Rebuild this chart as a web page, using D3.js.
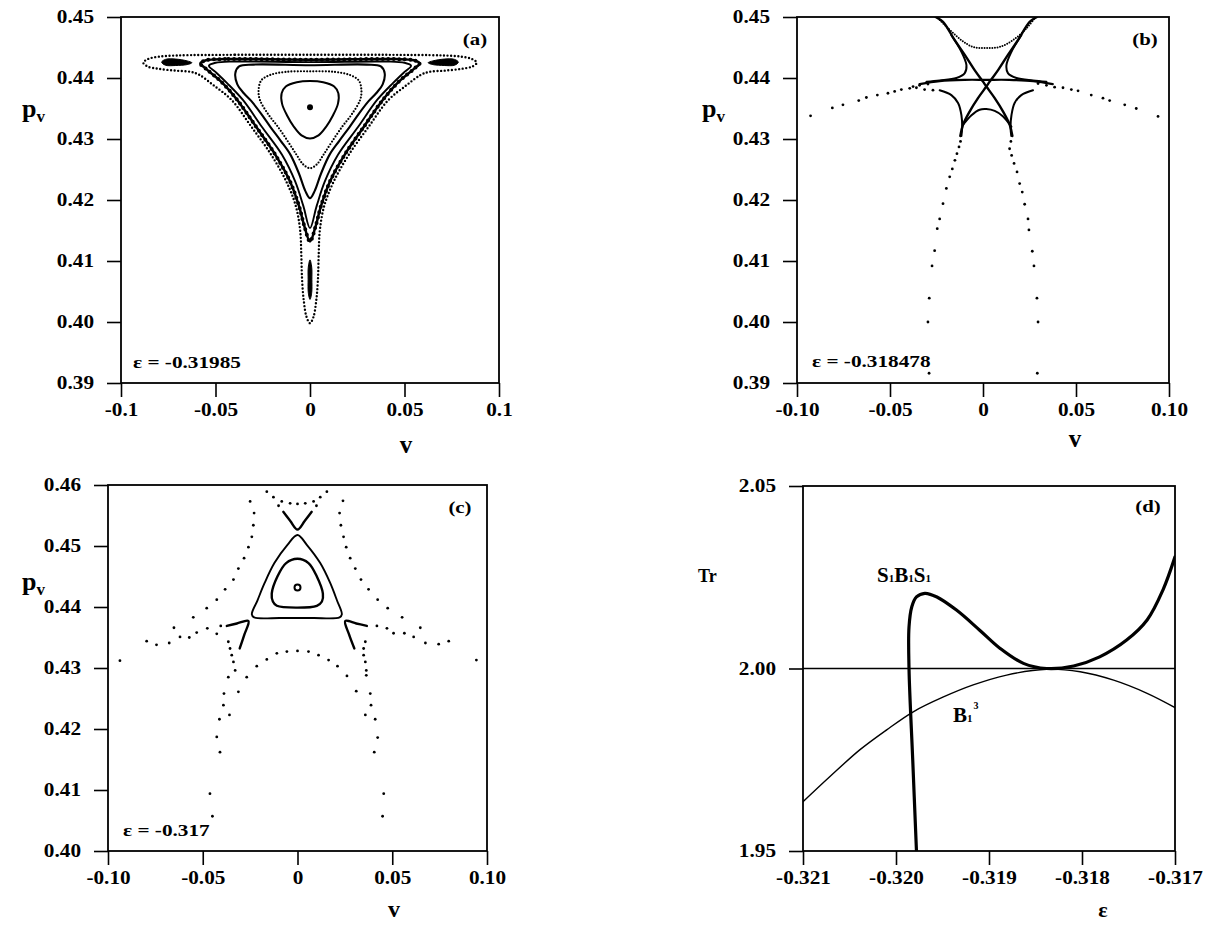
<!DOCTYPE html>
<html>
<head>
<meta charset="utf-8">
<script src="https://cdn.jsdelivr.net/npm/d3@7"></script>
<style>
  body { margin: 0; background: #fff; }
  svg text { font-family: "Liberation Serif", "Times New Roman", Times, serif; font-weight: bold; fill: #000; }
</style>
</head>
<body>
<svg id="fig" width="1208" height="926"></svg>
<script>
// ---------------- panel (a)  eps = -0.31985   [v, p_v] ----------------
const aCenter = [[0, 0.4352]]
const aCurveA = [[0, 0.4395], [-0.007, 0.4393], [-0.0128, 0.4386], [-0.0150, 0.4375], [-0.0148, 0.4358], [-0.0122, 0.4339], [-0.0085, 0.4320], [-0.0045, 0.4306], [0, 0.4301], [0.0045, 0.4306], [0.0085, 0.4320], [0.0122, 0.4339], [0.0148, 0.4358], [0.0150, 0.4375], [0.0128, 0.4386], [0.007, 0.4393]]
const aCurveB = [[0, 0.4411], [-0.013, 0.4410], [-0.021, 0.4405], [-0.0258, 0.4396], [-0.0272, 0.4380], [-0.0265, 0.4364], [-0.022, 0.4340], [-0.017, 0.4320], [-0.0115, 0.4295], [-0.0071, 0.4274], [-0.0035, 0.4258], [0, 0.4252], [0.0035, 0.4258], [0.0071, 0.4274], [0.0115, 0.4295], [0.017, 0.4320], [0.022, 0.4340], [0.0265, 0.4364], [0.0272, 0.4380], [0.0258, 0.4396], [0.021, 0.4405], [0.013, 0.4410]]
const aCurveC = [[0, 0.4421], [-0.030, 0.4422], [-0.0375, 0.4419], [-0.0395, 0.4408], [-0.0385, 0.4390], [-0.035, 0.4375], [-0.031, 0.4362], [-0.026, 0.4342], [-0.021, 0.4320], [-0.0155, 0.4297], [-0.0103, 0.4274], [-0.0058, 0.4243], [-0.0025, 0.4215], [0, 0.4203], [0.0025, 0.4215], [0.0058, 0.4243], [0.0103, 0.4274], [0.0155, 0.4297], [0.021, 0.4320], [0.026, 0.4342], [0.031, 0.4362], [0.035, 0.4375], [0.0385, 0.4390], [0.0395, 0.4408], [0.0375, 0.4419], [0.030, 0.4422]]
const aCurveD1 = [[0, 0.4426], [-0.040, 0.4427], [-0.050, 0.4425], [-0.0535, 0.4420], [-0.050, 0.4410], [-0.044, 0.4392], [-0.0355, 0.4364], [-0.0255, 0.4320], [-0.0148, 0.4274], [-0.0078, 0.4230], [-0.0035, 0.4190], [0, 0.4154], [0.0035, 0.4190], [0.0078, 0.4230], [0.0148, 0.4274], [0.0255, 0.4320], [0.0355, 0.4364], [0.044, 0.4392], [0.050, 0.4410], [0.0535, 0.4420], [0.050, 0.4425], [0.040, 0.4427]]
const aCurveD2 = [[0, 0.4430], [-0.045, 0.4431], [-0.055, 0.4429], [-0.0580, 0.4424], [-0.055, 0.4415], [-0.047, 0.4394], [-0.0385, 0.4364], [-0.0285, 0.4320], [-0.0183, 0.4274], [-0.0105, 0.4230], [-0.0058, 0.4190], [-0.0028, 0.4155], [0, 0.4132], [0.0028, 0.4155], [0.0058, 0.4190], [0.0105, 0.4230], [0.0183, 0.4274], [0.0285, 0.4320], [0.0385, 0.4364], [0.047, 0.4394], [0.055, 0.4415], [0.0580, 0.4424], [0.055, 0.4429], [0.045, 0.4431]]
const aOuter = [[0, 0.4438], [-0.040, 0.4438], [-0.070, 0.4437], [-0.080, 0.4435], [-0.0858, 0.4431], [-0.0882, 0.4425], [-0.086, 0.4419], [-0.080, 0.4415], [-0.071, 0.4412], [-0.063, 0.4410], [-0.0585, 0.4405], [-0.051, 0.4388], [-0.0415, 0.4364], [-0.031, 0.4320], [-0.0205, 0.4274], [-0.0125, 0.4230], [-0.0075, 0.4190], [-0.0052, 0.4150], [-0.0046, 0.4110], [-0.0042, 0.4070], [-0.0033, 0.4035], [-0.0018, 0.4008], [0, 0.3998], [0.0018, 0.4008], [0.0033, 0.4035], [0.0042, 0.4070], [0.0046, 0.4110], [0.0052, 0.4150], [0.0075, 0.4190], [0.0125, 0.4230], [0.0205, 0.4274], [0.031, 0.4320], [0.0415, 0.4364], [0.051, 0.4388], [0.0585, 0.4405], [0.063, 0.4410], [0.071, 0.4412], [0.080, 0.4415], [0.086, 0.4419], [0.0882, 0.4425], [0.0858, 0.4431], [0.080, 0.4435], [0.070, 0.4437], [0.040, 0.4438]]
const aIslandL = [[-0.0785, 0.4426], [-0.0765, 0.44305], [-0.071, 0.4431], [-0.065, 0.4428], [-0.0625, 0.4425], [-0.065, 0.4422], [-0.071, 0.44205], [-0.0765, 0.4421]]
const aIslandR = [[0.0785, 0.4426], [0.0765, 0.44305], [0.071, 0.4431], [0.065, 0.4428], [0.0625, 0.4425], [0.065, 0.4422], [0.071, 0.44205], [0.0765, 0.4421]]
const aIslandB = [[0, 0.4102], [0.0009, 0.4090], [0.0010, 0.4070], [0.0009, 0.4048], [0, 0.4037], [-0.0009, 0.4048], [-0.0010, 0.4070], [-0.0009, 0.4090]]

// ---------------- panel (b)  eps = -0.318478 ----------------
const bCupTop = [[-0.0242, 0.4498], [-0.0179, 0.4479], [-0.0116, 0.4462], [-0.0054, 0.4451], [0.0018, 0.4449], [0.009, 0.4451], [0.0161, 0.4462], [0.0233, 0.4481], [0.0278, 0.4498]]
const bArmA = [[-0.0255, 0.4500], [-0.0215, 0.4492], [-0.0152, 0.4462], [-0.0098, 0.4438], [-0.0045, 0.4413], [0, 0.4394], [0.0018, 0.4386], [0.0063, 0.4367], [0.0108, 0.4345], [0.0144, 0.4323], [0.0158, 0.4305]]
const bArmB = [[0.0290, 0.4500], [0.0251, 0.4492], [0.0188, 0.4462], [0.0134, 0.4438], [0.0081, 0.4413], [0.0036, 0.4394], [0.0018, 0.4386], [-0.0027, 0.4367], [-0.0072, 0.4345], [-0.0108, 0.4323], [-0.0122, 0.4305]]
const bHoriz = [[-0.0341, 0.4390], [-0.0233, 0.4395], [-0.010, 0.4397], [0.0018, 0.4397], [0.014, 0.4397], [0.027, 0.4395], [0.0375, 0.4390]]
const bLobeUL = [[-0.0170, 0.4470], [-0.0116, 0.4443], [-0.0089, 0.4421], [-0.0098, 0.4408], [-0.0143, 0.4400], [-0.0233, 0.4396], [-0.0304, 0.4394]]
const bLobeUR = [[0.0206, 0.4470], [0.0153, 0.4443], [0.0126, 0.4421], [0.0134, 0.4408], [0.0180, 0.4400], [0.0269, 0.4396], [0.0341, 0.4394]]
const bLobeLL = [[-0.0233, 0.4380], [-0.0170, 0.4372], [-0.0134, 0.4359], [-0.0116, 0.4339], [-0.0112, 0.4320], [-0.0116, 0.4305]]
const bLobeLR = [[0.0269, 0.4380], [0.0206, 0.4372], [0.0170, 0.4359], [0.0153, 0.4339], [0.0148, 0.4320], [0.0152, 0.4305]]
const bCap = [[-0.0108, 0.4323], [-0.0062, 0.4339], [-0.0018, 0.4348], [0.0018, 0.4349], [0.0063, 0.4346], [0.0108, 0.4337], [0.0153, 0.4320]]
const bDotsArcL = [[-0.0927, 0.4338], [-0.0810, 0.4351], [-0.0753, 0.4356], [-0.0668, 0.4363], [-0.0627, 0.4368], [-0.0568, 0.4372], [-0.0511, 0.4375], [-0.0475, 0.4378], [-0.0439, 0.4381], [-0.0394, 0.4383], [-0.0358, 0.4384], [-0.0376, 0.4386], [-0.0341, 0.4388], [-0.0296, 0.4390], [-0.0314, 0.4381], [-0.0269, 0.4380]]
const bDotsArcR = [[0.0296, 0.4391], [0.0341, 0.4388], [0.0385, 0.4385], [0.0430, 0.4384], [0.0475, 0.4381], [0.0511, 0.4379], [0.0582, 0.4372], [0.0645, 0.4367], [0.0681, 0.4363], [0.0762, 0.4356], [0.0824, 0.4350], [0.0941, 0.4337]]
const bDotsLowL = [[-0.0290, 0.3916], [-0.0296, 0.4000], [-0.0289, 0.4039], [-0.0274, 0.4092], [-0.0260, 0.4117], [-0.0246, 0.4153], [-0.0233, 0.4169], [-0.0215, 0.4194], [-0.0197, 0.4219], [-0.0179, 0.4238], [-0.0165, 0.4251], [-0.0151, 0.4265], [-0.0140, 0.4276], [-0.0129, 0.4287], [-0.0121, 0.4296]]
const bDotsLowR = [[0.0292, 0.3916], [0.0296, 0.4000], [0.0290, 0.4039], [0.0274, 0.4092], [0.0265, 0.4116], [0.0247, 0.4151], [0.0242, 0.4169], [0.0224, 0.4193], [0.0211, 0.4213], [0.0197, 0.4227], [0.0183, 0.4246], [0.0167, 0.4260], [0.0154, 0.4273], [0.0143, 0.4284], [0.0150, 0.4296]]

// ---------------- panel (c)  eps = -0.317 ----------------
const cRing = [[0, 0.4432]]
const cInner = [[0, 0.4479], [0.0058, 0.4472], [0.0102, 0.4450], [0.0134, 0.4422], [0.0129, 0.4409], [0.0102, 0.4402], [0, 0.4399], [-0.0109, 0.4402], [-0.0130, 0.4409], [-0.0136, 0.4422], [-0.0106, 0.4450], [-0.0060, 0.4472]]
const cOuter = [[0, 0.4518], [0.0049, 0.4502], [0.0120, 0.4472], [0.0173, 0.4439], [0.0208, 0.4411], [0.0234, 0.4388], [0.0222, 0.4383], [0.0085, 0.4382], [0, 0.4382], [-0.0092, 0.4382], [-0.0229, 0.4383], [-0.0241, 0.4388], [-0.0211, 0.4411], [-0.0174, 0.4439], [-0.0122, 0.4472], [-0.0053, 0.4502]]
const cVee = [[-0.0075, 0.4556], [-0.0038, 0.4541], [0, 0.4527], [0.0038, 0.4541], [0.0075, 0.4556]]
const cCuspL = [[-0.0373, 0.4369], [-0.0320, 0.4373], [-0.0259, 0.4377], [-0.0280, 0.4355], [-0.0305, 0.4332]]
const cCuspR = [[0.0366, 0.4369], [0.0310, 0.4373], [0.0252, 0.4377], [0.0272, 0.4355], [0.0300, 0.4332]]
const cDotsArcL = [[-0.0250, 0.4573], [-0.0229, 0.4554], [-0.0233, 0.4534], [-0.0241, 0.4515], [-0.0259, 0.4498], [-0.0282, 0.4480], [-0.0312, 0.4463], [-0.0338, 0.4445], [-0.0382, 0.4429], [-0.0426, 0.4412], [-0.0479, 0.4398], [-0.0550, 0.4383], [-0.0652, 0.4366]]
const cDotsArcR = [[0.0240, 0.4574], [0.0222, 0.4554], [0.0229, 0.4534], [0.0243, 0.4515], [0.0257, 0.4498], [0.0278, 0.4480], [0.0305, 0.4463], [0.0335, 0.4445], [0.0375, 0.4429], [0.0423, 0.4412], [0.0476, 0.4398], [0.0552, 0.4383], [0.0648, 0.4366]]
const cDotsArmL = [[-0.0937, 0.4312], [-0.0796, 0.4344], [-0.0744, 0.4338], [-0.0677, 0.4341], [-0.0620, 0.4351], [-0.0571, 0.4350], [-0.0532, 0.4358], [-0.0476, 0.4365], [-0.0426, 0.4356], [-0.0405, 0.4369]]
const cDotsArmR = [[0.0944, 0.4313], [0.0798, 0.4344], [0.0745, 0.4339], [0.0675, 0.4341], [0.0613, 0.4351], [0.0564, 0.4357], [0.0507, 0.4357], [0.0472, 0.4365], [0.0419, 0.4369]]
const cDotsLowL = [[-0.0365, 0.4343], [-0.0356, 0.4332], [-0.0347, 0.4321], [-0.0338, 0.4310], [-0.0329, 0.4296], [-0.0365, 0.4285], [-0.0312, 0.4261], [-0.0388, 0.4258], [-0.0391, 0.4239], [-0.0359, 0.4223], [-0.0412, 0.4216], [-0.0426, 0.4187], [-0.0409, 0.4162], [-0.0462, 0.4094], [-0.0449, 0.4057]]
const cDotsLowR = [[0.0358, 0.4343], [0.0349, 0.4332], [0.0349, 0.4321], [0.0358, 0.4310], [0.0363, 0.4296], [0.0363, 0.4288], [0.0384, 0.4258], [0.0388, 0.4239], [0.0358, 0.4223], [0.0410, 0.4216], [0.0423, 0.4186], [0.0405, 0.4162], [0.0455, 0.4094], [0.0449, 0.4057]]
const cDotsCap = [[-0.0268, 0.4285], [-0.0215, 0.4303], [-0.0162, 0.4314], [-0.0109, 0.4324], [-0.0056, 0.4327], [0, 0.4328], [0.0058, 0.4327], [0.0111, 0.4321], [0.0164, 0.4313], [0.0211, 0.4303], [0.0261, 0.4287], [0.0310, 0.4262]]
const cDotsCup = [[-0.0162, 0.4589], [-0.0127, 0.4580], [-0.0083, 0.4573], [-0.0039, 0.4570], [0, 0.4569], [0.0041, 0.4570], [0.0085, 0.4573], [0.0120, 0.4580], [0.0155, 0.4589], [-0.0100, 0.4566], [0.0100, 0.4566]]

// ---------------- panel (d)  Tr vs eps ----------------
const dB13 = [[-0.3210, 1.9635], [-0.32071, 1.9704], [-0.32039, 1.9777], [-0.3201, 1.9832], [-0.31981, 1.9882], [-0.31949, 1.9922], [-0.31917, 1.9955], [-0.31881, 1.9982], [-0.31838, 1.9998], [-0.31802, 1.9991], [-0.31766, 1.9968], [-0.3173, 1.9932], [-0.3170, 1.9893]]
const dSBS = [[-0.31978, 1.9500], [-0.31982, 1.9749], [-0.31986, 1.9999], [-0.31986, 2.0114], [-0.31983, 2.0169], [-0.31978, 2.0196], [-0.31969, 2.0206], [-0.31956, 2.0196], [-0.31935, 2.0160], [-0.31910, 2.0105], [-0.31888, 2.0055], [-0.31863, 2.0014], [-0.31838, 2.0000], [-0.31809, 2.0007], [-0.31781, 2.0032], [-0.31752, 2.0078], [-0.31730, 2.0133], [-0.31713, 2.0215], [-0.3170, 2.0306]]
const dLevel = [2.00]

// ---------------- ticks ----------------
const vTicks = [-0.1, -0.05, 0, 0.05, 0.1]
const vLabelsA = ['-0.1', '-0.05', '0', '0.05', '0.1']
const vLabelsB = ['-0.10', '-0.05', '0', '0.05', '0.10']
const pTicksAB = [0.39, 0.40, 0.41, 0.42, 0.43, 0.44, 0.45]
const pTicksC = [0.40, 0.41, 0.42, 0.43, 0.44, 0.45, 0.46]
const eTicks = [-0.321, -0.320, -0.319, -0.318, -0.317]
const trTicks = [1.95, 2.00, 2.05]

const svg = d3.select('#fig')
const FONT = '"Liberation Serif", "Times New Roman", Times, serif'

function stretch (sel, k) {
  sel.each(function () {
    const w = this.getComputedTextLength()
    d3.select(this).attr('textLength', w * k).attr('lengthAdjust', 'spacingAndGlyphs')
  })
}

function panel (id, box, xDom, yDom, xt, xl, yt, yl) {
  const x = d3.scaleLinear().domain(xDom).range([box.x0, box.x1])
  const y = d3.scaleLinear().domain(yDom).range([box.y1, box.y0])
  svg.append('clipPath').attr('id', id)
    .append('rect').attr('x', box.x0).attr('y', box.y0)
    .attr('width', box.x1 - box.x0).attr('height', box.y1 - box.y0)
  const g = svg.append('g')
  const gx = g.append('g').attr('transform', `translate(0,${box.y1})`)
    .call(d3.axisBottom(x).tickValues(xt).tickFormat((d, i) => xl[i]).tickSize(14).tickSizeOuter(0).tickPadding(6))
  const gy = g.append('g').attr('transform', `translate(${box.x0},0)`)
    .call(d3.axisLeft(y).tickValues(yt).tickFormat((d, i) => yl[i]).tickSize(14).tickSizeOuter(0).tickPadding(13))
  ;[gx, gy].forEach(a => {
    a.attr('font-family', FONT).attr('font-size', 18).attr('font-weight', 'bold')
    a.select('.domain').remove()
    a.selectAll('line').attr('stroke', '#000').attr('stroke-width', 1.6)
    a.selectAll('text').attr('fill', '#000')
    stretch(a.selectAll('text'), 1.18)
  })
  g.append('rect').attr('x', box.x0).attr('y', box.y0)
    .attr('width', box.x1 - box.x0).attr('height', box.y1 - box.y0)
    .attr('fill', 'none').attr('stroke', '#000').attr('stroke-width', 1.8)
  const plot = g.append('g').attr('clip-path', `url(#${id})`)
  return { x, y, g, plot }
}

function lineGen (P, closed) {
  return d3.line().x(d => P.x(d[0])).y(d => P.y(d[1]))
    .curve(closed ? d3.curveCatmullRomClosed.alpha(0.5) : d3.curveCatmullRom.alpha(0.5))
}
function curve (P, data, closed, w, dash) {
  const p = P.plot.append('path').attr('d', lineGen(P, closed)(data))
    .attr('fill', 'none').attr('stroke', '#000').attr('stroke-width', w)
    .attr('stroke-linecap', 'round').attr('stroke-linejoin', 'round')
  if (dash) p.attr('stroke-dasharray', dash)
  return p
}
function blob (P, data) {
  P.plot.append('path').attr('d', lineGen(P, true)(data)).attr('fill', '#000').attr('stroke', '#000').attr('stroke-width', 1)
}
function dots (P, data, r) {
  P.plot.selectAll(null).data(data).enter().append('circle')
    .attr('cx', d => P.x(d[0])).attr('cy', d => P.y(d[1])).attr('r', r).attr('fill', '#000')
}
function label (x, y, txt, size, k, anchor) {
  const t = svg.append('text').attr('x', x).attr('y', y).attr('font-size', size)
    .attr('text-anchor', anchor || 'start').text(txt)
  if (k) stretch(t, k)
  return t
}
function pvTitle (x, y) {
  const t = svg.append('text').attr('x', x).attr('y', y).attr('font-size', 26)
  t.append('tspan').text('p')
  t.append('tspan').attr('font-size', 17).attr('dy', 5).text('v')
}

// ---------------- (a) ----------------
const A = panel('clipA', { x0: 121, x1: 499, y0: 17, y1: 383 }, [-0.1, 0.1], [0.39, 0.45],
  vTicks, vLabelsA, pTicksAB, pTicksAB.map(d => d.toFixed(2)))
curve(A, aOuter, true, 2.4, '0 3.6')
curve(A, aCurveD2, true, 2.5)
curve(A, aCurveD2, true, 4, '0 5.5')
curve(A, aCurveD1, true, 1.9)
curve(A, aCurveC, true, 2.1)
curve(A, aCurveB, true, 2.2, '0 3.1')
curve(A, aCurveA, true, 2)
blob(A, aIslandL)
blob(A, aIslandR)
blob(A, aIslandB)
dots(A, aCenter, 3)
label(475, 45, '(a)', 16, 1.3, 'middle')
label(133, 368, 'ε = -0.31985', 17, 1.25)
pvTitle(22, 117)
label(406, 453, 'v', 25, 0, 'middle')

// ---------------- (b) ----------------
const B = panel('clipB', { x0: 797, x1: 1169, y0: 17, y1: 383 }, [-0.1, 0.1], [0.39, 0.45],
  vTicks, vLabelsB, pTicksAB, pTicksAB.map(d => d.toFixed(2)))
curve(B, bCupTop, false, 2, '0 2.6')
curve(B, bArmA, false, 2.4)
curve(B, bArmB, false, 2.4)
curve(B, bHoriz, false, 2.2)
curve(B, bLobeUL, false, 2)
curve(B, bLobeUR, false, 2)
curve(B, bLobeLL, false, 2)
curve(B, bLobeLR, false, 2)
curve(B, bCap, false, 2)
;[bDotsArcL, bDotsArcR, bDotsLowL, bDotsLowR].forEach(s => dots(B, s, 1.4))
label(1145, 45, '(b)', 16, 1.3, 'middle')
label(812, 367, 'ε = -0.318478', 17, 1.25)
pvTitle(702, 117)
label(1075, 447, 'v', 25, 0, 'middle')

// ---------------- (c) ----------------
const C = panel('clipC', { x0: 108, x1: 487, y0: 485, y1: 851 }, [-0.1, 0.1], [0.40, 0.46],
  vTicks, vLabelsB, pTicksC, pTicksC.map(d => d.toFixed(2)))
curve(C, cOuter, true, 1.9)
curve(C, cInner, true, 2.4)
curve(C, cVee, false, 2.4)
curve(C, cCuspL, false, 2.4)
curve(C, cCuspR, false, 2.4)
C.plot.selectAll(null).data(cRing).enter().append('circle')
  .attr('cx', d => C.x(d[0])).attr('cy', d => C.y(d[1])).attr('r', 3)
  .attr('fill', 'none').attr('stroke', '#000').attr('stroke-width', 2)
;[cDotsArcL, cDotsArcR, cDotsArmL, cDotsArmR, cDotsLowL, cDotsLowR, cDotsCap, cDotsCup].forEach(s => dots(C, s, 1.4))
label(460, 513, '(c)', 16, 1.3, 'middle')
label(123, 836, 'ε = -0.317', 17, 1.25)
pvTitle(22, 590)
label(394, 917, 'v', 24, 0, 'middle')

// ---------------- (d) ----------------
const D = panel('clipD', { x0: 803, x1: 1175, y0: 486, y1: 851 }, [-0.321, -0.317], [1.95, 2.05],
  eTicks, eTicks.map(d => d.toFixed(3)), trTicks, trTicks.map(d => d.toFixed(2)))
D.plot.selectAll(null).data(dLevel).enter().append('line')
  .attr('x1', D.x(-0.321)).attr('x2', D.x(-0.317))
  .attr('y1', d => D.y(d)).attr('y2', d => D.y(d))
  .attr('stroke', '#000').attr('stroke-width', 1.3)
curve(D, dB13, false, 1.4)
curve(D, dSBS, false, 3.2)
label(1148, 512, '(d)', 16, 1.3, 'middle')
label(698, 582, 'Tr', 18, 0)
label(1103, 917, 'ε', 22, 0, 'middle')
const sbs = svg.append('text').attr('x', 877).attr('y', 582).attr('font-size', 21)
;['S', '1', 'B', '1', 'S', '1'].forEach((s, i) => sbs.append('tspan').attr('font-size', i % 2 ? 11 : 21).text(s))
const b13 = svg.append('text').attr('x', 953).attr('y', 722).attr('font-size', 21)
b13.append('tspan').text('B')
b13.append('tspan').attr('font-size', 11).text('1')
b13.append('tspan').attr('font-size', 10).attr('dy', -13).attr('dx', 1).text('3')
</script>
</body>
</html>
